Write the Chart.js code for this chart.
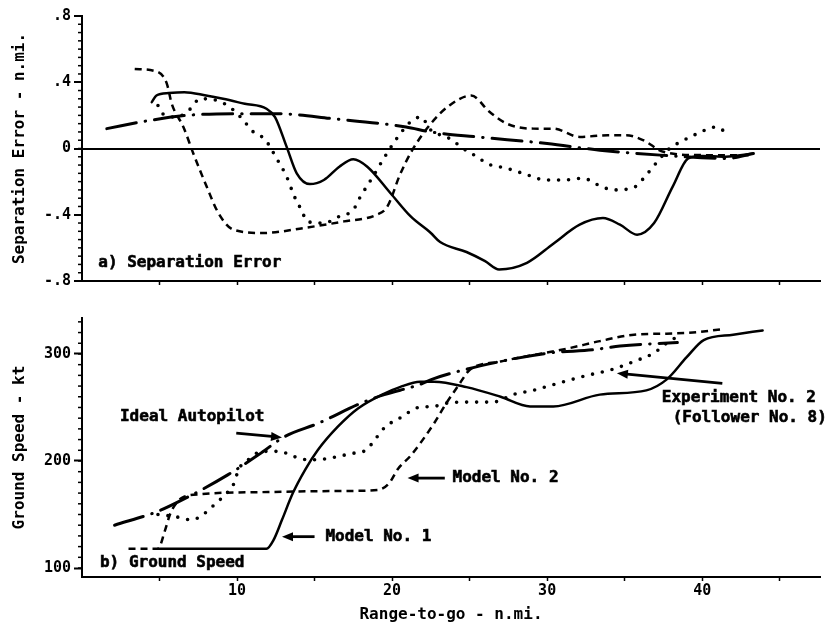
<!DOCTYPE html>
<html>
<head>
<meta charset="utf-8">
<script src="https://cdn.jsdelivr.net/npm/chart.js@4/dist/chart.umd.min.js"></script>
<style>
  body { margin: 0; background: #fff; }
  #wrap { position: relative; width: 826px; height: 626px; background: #fff; }
  canvas { position: absolute; left: 0; }
  #sepChart { top: 0; }
  #gsChart { top: 300px; }
</style>
</head>
<body>
<div id="wrap">
  <canvas id="sepChart" width="826" height="300"></canvas>
  <canvas id="gsChart" width="826" height="326"></canvas>
</div>
<script>
// ---------------------------------------------------------------
// Data (x = range-to-go, n.mi.)
// ---------------------------------------------------------------

// a) Separation error - n.mi.
const sepModel1X = [4.5, 4.8, 5.6, 6.6, 8.0, 9.1, 10.5, 11.9, 12.45, 13.2, 13.85, 14.7, 15.6, 16.6, 17.5, 18.4, 19.9, 21.2, 22.5, 23.1, 24.8, 26.0, 26.9, 28.7, 30.4, 32.1, 33.6, 34.7, 35.8, 36.9, 38.1, 39.1, 40.0, 41.5, 43.3];
const sepModel1Y = [0.28, 0.32, 0.335, 0.34, 0.32, 0.30, 0.27, 0.24, 0.19, 0.01, -0.15, -0.215, -0.19, -0.11, -0.065, -0.11, -0.27, -0.41, -0.51, -0.565, -0.625, -0.68, -0.73, -0.69, -0.575, -0.46, -0.42, -0.46, -0.52, -0.45, -0.23, -0.06, -0.045, -0.05, -0.03];

const sepModel2X = [3.4, 4.8, 5.46, 5.79, 6.54, 7.18, 8.04, 8.8, 9.76, 11.7, 14.3, 16.9, 19.0, 19.7, 20.5, 21.3, 22.5, 23.7, 25.1, 26.3, 27.4, 29.1, 30.4, 32.1, 33.9, 35.1, 36.2, 37.5, 40.0, 43.0];
const sepModel2Y = [0.48, 0.465, 0.395, 0.27, 0.13, -0.03, -0.23, -0.39, -0.49, -0.51, -0.48, -0.44, -0.40, -0.35, -0.16, -0.01, 0.15, 0.26, 0.32, 0.22, 0.15, 0.12, 0.12, 0.07, 0.08, 0.08, 0.05, -0.02, -0.04, -0.04];

const sepExpX = [4.9, 5.2, 6.1, 7.0, 7.6, 8.7, 9.8, 10.5, 11.05, 11.8, 12.55, 13.2, 13.7, 14.2, 14.5, 15.6, 16.6, 17.5, 17.9, 18.7, 19.4, 20.3, 21.3, 21.9, 22.4, 23.7, 24.9, 25.5, 26.1, 27.4, 28.6, 29.9, 31.05, 32.3, 33.5, 34.3, 35.6, 36.4, 37.1, 37.9, 38.6, 39.7, 40.9, 41.5];
const sepExpY = [0.26, 0.21, 0.19, 0.24, 0.30, 0.29, 0.23, 0.16, 0.10, 0.055, -0.06, -0.17, -0.29, -0.38, -0.44, -0.45, -0.41, -0.37, -0.30, -0.18, -0.07, 0.06, 0.17, 0.19, 0.12, 0.06, -0.02, -0.05, -0.09, -0.12, -0.155, -0.19, -0.19, -0.18, -0.23, -0.25, -0.235, -0.16, -0.08, 0.0, 0.04, 0.09, 0.13, 0.10];

const sepIdealX = [1.6, 4.4, 6.75, 10.2, 12.6, 16.2, 20.9, 22.5, 25.5, 30.0, 33.4, 37.3, 41.6, 43.3];
const sepIdealY = [0.12, 0.17, 0.20, 0.21, 0.21, 0.18, 0.13, 0.10, 0.07, 0.03, -0.01, -0.04, -0.06, -0.03];

// b) Ground speed - kt
const gsModel1X = [4.9, 11.9, 12.35, 12.9, 13.6, 14.4, 15.2, 16.5, 17.8, 19.5, 20.5, 21.8, 22.7, 24.8, 27.0, 28.9, 30.4, 33.4, 36.4, 37.7, 39.0, 40.1, 42.0, 43.9];
const gsModel1Y = [118, 118, 126, 145, 170, 192, 210, 232, 249, 263, 269, 274, 274, 269, 260, 251, 251, 262, 266, 276, 297, 313, 318, 322];

const gsModel2X = [3.0, 4.9, 5.35, 5.7, 6.1, 6.5, 7.7, 12.0, 17.0, 19.1, 19.8, 20.4, 21.2, 22.7, 23.5, 24.3, 25.0, 27.0, 29.1, 31.3, 33.4, 35.6, 37.7, 39.4, 41.2];
const gsModel2Y = [118, 118, 135, 151, 161, 166, 169, 171, 172, 173, 179, 193, 205, 235, 254, 271, 285, 293, 299, 305, 312, 318, 319, 320, 323];

const gsExpX = [4.9, 6.0, 7.1, 7.9, 8.6, 9.2, 9.8, 10.1, 10.7, 11.6, 12.7, 13.7, 14.6, 15.7, 17.4, 18.3, 18.9, 19.5, 20.6, 21.7, 22.7, 23.5, 24.8, 26.5, 27.8, 29.1, 30.8, 32.6, 34.3, 35.6, 36.9, 37.7, 38.6];
const gsExpY = [150, 148, 145, 151, 160, 168, 179, 192, 201, 209, 209, 204, 201, 202, 207, 210, 220, 231, 241, 250, 251, 254, 255, 255, 262, 266, 273, 280, 286, 293, 301, 310, 318];

const gsIdealX = [2.1, 4.9, 6.65, 9.4, 11.4, 13.1, 15.2, 18.0, 19.5, 21.7, 22.7, 27.0, 30.2, 33.0, 34.7, 38.4];
const gsIdealY = [140, 153, 165, 187, 206, 223, 235, 254, 262, 271, 277, 293, 301, 304, 307.5, 310.6];

// tick labels
const rangeTicks = [5, 10, 15, 20, 25, 30, 35, 40, 45];
const rangeTickLabels = ['', '10', '', '20', '', '30', '', '40', ''];
const sepTicks = [-0.8, -0.4, 0, 0.4, 0.8];
const sepTickLabels = ['-.8', '-.4', '0', '.4', '.8'];
const gsTicks = [100, 200, 300];
const gsTickLabels = ['100', '200', '300'];

// ---------------------------------------------------------------

const FONT = '"DejaVu Sans Mono", "Liberation Mono", monospace';
Chart.defaults.font.family = FONT;
Chart.defaults.font.weight = 'bold';
Chart.defaults.font.size = 15;
Chart.defaults.color = '#000';

function pts(xs, ys) {
  return xs.map((x, i) => ({ x: x, y: ys[i] }));
}

function lineSet(label, xs, ys, style) {
  return Object.assign({
    label: label,
    data: pts(xs, ys),
    borderColor: '#000',
    borderWidth: 2.5,
    pointRadius: 0,
    fill: false,
    cubicInterpolationMode: 'monotone',
    borderCapStyle: 'round',
    borderJoinStyle: 'round'
  }, style);
}

const solid = {};
const dashed = { borderDash: [7, 5], borderCapStyle: 'butt' };
const dotted = { borderDash: [0, 10], borderWidth: 3.6 };
const dashDot = { borderDash: [30, 9, 0.5, 9], borderWidth: 3 };

// short minor tick marks on the left axis
const minorTicks = {
  id: 'minorTicks',
  afterDraw(chart, args, opts) {
    const s = chart.scales.y, ctx = chart.ctx;
    ctx.save();
    ctx.strokeStyle = '#000';
    ctx.lineWidth = 1.5;
    for (let v = opts.from; v <= opts.to + 1e-9; v += opts.step) {
      const y = s.getPixelForValue(v);
      ctx.beginPath();
      ctx.moveTo(s.right - 4, y);
      ctx.lineTo(s.right, y);
      ctx.stroke();
    }
    ctx.restore();
  }
};

// text labels and arrows, placed in data units
function drawArrow(ctx, x1, y1, x2, y2) {
  const a = Math.atan2(y2 - y1, x2 - x1), L = 11, W = 4.5;
  const c = Math.cos(a), s = Math.sin(a);
  ctx.beginPath();
  ctx.moveTo(x1, y1);
  ctx.lineTo(x2 - L * 0.7 * c, y2 - L * 0.7 * s);
  ctx.stroke();
  ctx.beginPath();
  ctx.moveTo(x2, y2);
  ctx.lineTo(x2 - L * c + W * s, y2 - L * s - W * c);
  ctx.lineTo(x2 - L * c - W * s, y2 - L * s + W * c);
  ctx.closePath();
  ctx.fill();
}

const notes = {
  id: 'notes',
  afterDraw(chart, args, opts) {
    const ctx = chart.ctx, sx = chart.scales.x, sy = chart.scales.y;
    ctx.save();
    ctx.fillStyle = '#000';
    ctx.strokeStyle = '#000';
    ctx.font = 'bold 16px ' + FONT;
    ctx.textAlign = 'left';
    ctx.textBaseline = 'middle';
    ctx.lineWidth = 0.6;
    (opts.texts || []).forEach(t => {
      const px = sx.getPixelForValue(t.x), py = sy.getPixelForValue(t.y);
      ctx.fillText(t.text, px, py);
      ctx.strokeText(t.text, px, py);
    });
    ctx.lineWidth = 2.8;
    (opts.arrows || []).forEach(a => {
      drawArrow(ctx,
        sx.getPixelForValue(a.from[0]), sy.getPixelForValue(a.from[1]),
        sx.getPixelForValue(a.to[0]), sy.getPixelForValue(a.to[1]));
    });
    ctx.restore();
  }
};

function xAxis(showLabels, height) {
  return {
    type: 'linear',
    min: 0,
    max: 47.6,
    afterBuildTicks: s => { s.ticks = rangeTicks.map(v => ({ value: v })); },
    afterFit: s => { s.height = height; },
    border: { display: true, color: '#000', width: 2 },
    grid: { drawOnChartArea: false, drawTicks: true, tickLength: 4, tickColor: '#000', tickWidth: 1.5 },
    ticks: {
      display: showLabels,
      autoSkip: false,
      maxRotation: 0,
      padding: 1,
      font: { size: 15, weight: 'bold' },
      callback: (v, i) => rangeTickLabels[i]
    },
    title: {
      display: showLabels,
      text: 'Range-to-go - n.mi.',
      font: { size: 16, weight: 'bold' },
      padding: { top: 0, bottom: 2 }
    }
  };
}

function yAxis(min, max, tickVals, tickLabels, title, extraGrid) {
  return Object.assign({
    type: 'linear',
    min: min,
    max: max,
    afterBuildTicks: s => { s.ticks = tickVals.map(v => ({ value: v })); },
    afterFit: s => { s.width = 82; },
    border: { display: true, color: '#000', width: 2 },
    grid: { drawOnChartArea: false, tickLength: 8, tickColor: '#000', tickWidth: 2 },
    ticks: {
      autoSkip: false,
      padding: 3,
      font: { size: 15, weight: 'bold' },
      callback: (v, i) => tickLabels[i]
    },
    title: {
      display: true,
      text: title,
      font: { size: 16, weight: 'bold' },
      padding: { top: 10, bottom: 0 }
    }
  }, extraGrid || {});
}

new Chart(document.getElementById('sepChart'), {
  type: 'line',
  data: {
    datasets: [
      lineSet('Model No. 1', sepModel1X, sepModel1Y, solid),
      lineSet('Model No. 2', sepModel2X, sepModel2Y, dashed),
      lineSet('Experiment No. 2', sepExpX, sepExpY, dotted),
      lineSet('Ideal Autopilot', sepIdealX, sepIdealY, dashDot)
    ]
  },
  options: {
    responsive: false,
    animation: false,
    layout: { padding: { top: 16, right: 6, left: 0, bottom: 0 } },
    scales: {
      x: xAxis(false, 19),
      y: yAxis(-0.8, 0.8, sepTicks, sepTickLabels, 'Separation Error - n.mi.', {
        grid: {
          drawOnChartArea: true,
          tickLength: 8,
          tickColor: '#000',
          tickWidth: 2,
          color: c => (c.tick && c.tick.value === 0 ? '#000' : 'rgba(0,0,0,0)'),
          lineWidth: c => (c.tick && c.tick.value === 0 ? 2 : 0)
        }
      })
    },
    plugins: {
      legend: { display: false },
      tooltip: { enabled: false },
      minorTicks: { from: -0.8, to: 0.8, step: 0.05 },
      notes: {
        texts: [{ text: 'a) Separation Error', x: 1.05, y: -0.69 }]
      }
    }
  },
  plugins: [minorTicks, notes]
});

new Chart(document.getElementById('gsChart'), {
  type: 'line',
  data: {
    datasets: [
      lineSet('Model No. 1', gsModel1X, gsModel1Y, solid),
      lineSet('Model No. 2', gsModel2X, gsModel2Y, dashed),
      lineSet('Experiment No. 2', gsExpX, gsExpY, dotted),
      lineSet('Ideal Autopilot', gsIdealX, gsIdealY, dashDot)
    ]
  },
  options: {
    responsive: false,
    animation: false,
    layout: { padding: { top: 18, right: 6, left: 0, bottom: 0 } },
    scales: {
      x: xAxis(true, 49),
      y: yAxis(91.6, 333.6, gsTicks, gsTickLabels, 'Ground Speed - kt')
    },
    plugins: {
      legend: { display: false },
      tooltip: { enabled: false },
      minorTicks: { from: 100, to: 330, step: 10 },
      notes: {
        texts: [
          { text: 'Ideal Autopilot', x: 2.45, y: 241.4 },
          { text: 'Model No. 2', x: 23.9, y: 184 },
          { text: 'Model No. 1', x: 15.7, y: 129.3 },
          { text: 'Experiment No. 2', x: 37.4, y: 258.6 },
          { text: '(Follower No. 8)', x: 38.1, y: 240 },
          { text: 'b) Ground Speed', x: 1.16, y: 104.4 }
        ],
        arrows: [
          { from: [9.95, 226], to: [12.9, 222] },
          { from: [23.4, 184], to: [21.0, 184] },
          { from: [15.0, 129.3], to: [12.9, 129.3] },
          { from: [41.3, 272.6], to: [34.5, 282] }
        ]
      }
    }
  },
  plugins: [minorTicks, notes]
});
</script>
</body>
</html>
